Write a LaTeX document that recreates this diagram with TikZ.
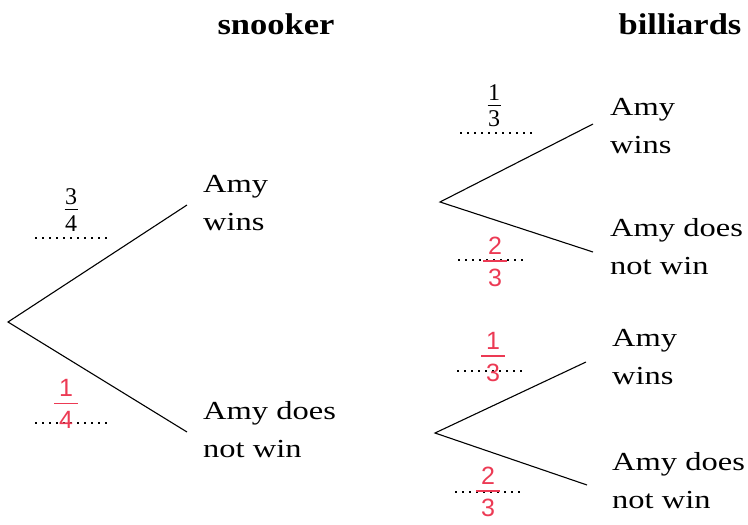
\documentclass[tikz,border=0pt]{standalone}
\usepackage{fontspec}
\setmainfont{Liberation Serif}
\newfontfamily\amyfont[FakeStretch=1.25]{Liberation Serif}
\newfontfamily\hdfont[FakeStretch=1.15]{Liberation Serif}
\newfontfamily\penfont{Liberation Sans}
\definecolor{pen}{RGB}{236,58,84}
\newcommand{\fr}[2]{\shortstack{#1\\[1.5pt]\rule{13pt}{0.9pt}\\[2pt]#2}}
\newcommand{\pfr}[2]{\shortstack{#1\\[3pt]\rule{24pt}{1.8pt}\\[4pt]#2}}
\begin{document}
\begin{tikzpicture}[x=1pt,y=-1pt,
  branch/.style={line width=1.1pt},
  outcome/.style={anchor=west,align=left,inner sep=0pt,font=\amyfont\fontsize{26}{38}\selectfont},
  game/.style={anchor=base,font=\hdfont\bfseries\fontsize{30}{36}\selectfont},
  given/.style={inner sep=0pt,font=\fontsize{24}{28}\selectfont},
  written/.style={inner sep=0pt,text=pen,font=\penfont\fontsize{25}{30}\selectfont},
  blank/.style={line width=1.5pt,dash pattern=on 1.5pt off 5.5pt}]
  \useasboundingbox (0,0) rectangle (748,525);
  \node[game] (snk) at (276,34) {snooker};
  \node[game] (bil) at (680,34) {billiards};
  % roots and branch ends
  \coordinate (r0) at (8,322);
  \coordinate (r1) at (440,202);
  \coordinate (r2) at (435,433);
  \coordinate (e0) at (187,205);
  \coordinate (e1) at (187,432);
  \coordinate (e2) at (593,124);
  \coordinate (e3) at (593,252);
  \coordinate (e4) at (586,362);
  \coordinate (e5) at (587,485);
  \draw[branch] (e0) -- (r0) -- (e1);
  \draw[branch] (e2) -- (r1) -- (e3);
  \draw[branch] (e4) -- (r2) -- (e5);
  \node[outcome] (w0) at (203,203) {Amy\\wins};
  \node[outcome] (n0) at (203,430) {Amy does\\not win};
  \node[outcome] (w1) at (610,126) {Amy\\wins};
  \node[outcome] (n1) at (610,247) {Amy does\\not win};
  \node[outcome] (w2) at (612,357) {Amy\\wins};
  \node[outcome] (n2) at (612,481) {Amy does\\not win};
  % probabilities
  \draw[blank] (35,238) -- (107,238);
  \draw[blank] (460,133) -- (533,133);
  \draw[blank] (35,423) -- (107,423);
  \draw[blank] (458,260) -- (528,260);
  \draw[blank] (457,371) -- (526,371);
  \draw[blank] (455,492) -- (523,492);
  \node[given] (p34) at (71,210) {\fr{3}{4}};
  \node[given] (p13) at (494,106) {\fr{1}{3}};
  \node[written] (q14) at (66,404) {\pfr{1}{4}};
  \node[written] (q23a) at (495,262) {\pfr{2}{3}};
  \node[written] (q13) at (493,357) {\pfr{1}{3}};
  \node[written] (q23b) at (488,492) {\pfr{2}{3}};
\end{tikzpicture}
\end{document}
